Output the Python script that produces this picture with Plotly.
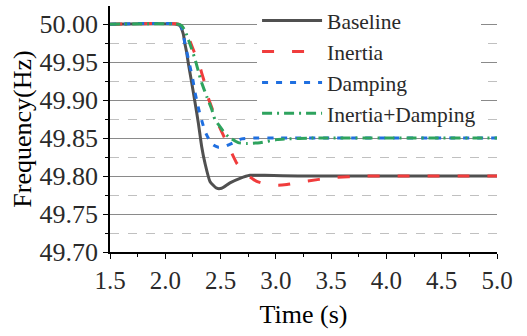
import plotly.graph_objects as go

# Time (s) and frequency (Hz)
t_base = [1.5, 2.10, 2.133, 2.163, 2.178, 2.193, 2.208, 2.239, 2.269, 2.299, 2.329, 2.359, 2.404, 2.465, 2.510, 2.585, 2.676, 2.766, 2.90, 3.2, 5.0]
f_base = [50.0, 50.0, 49.998, 49.987, 49.974, 49.963, 49.949, 49.923, 49.897, 49.870, 49.839, 49.817, 49.793, 49.784, 49.784, 49.791, 49.797, 49.801, 49.801, 49.800, 49.800]

t_inertia = [1.5, 2.12, 2.16, 2.208, 2.223, 2.26, 2.308, 2.329, 2.374, 2.389, 2.434, 2.465, 2.480, 2.55, 2.615, 2.646, 2.736, 2.827, 2.92, 3.022, 3.1, 3.26, 3.52, 3.79, 4.1, 5.0]
f_inertia = [50.0, 50.0, 49.996, 49.985, 49.978, 49.964, 49.947, 49.936, 49.914, 49.903, 49.885, 49.874, 49.868, 49.846, 49.826, 49.817, 49.802, 49.793, 49.789, 49.788, 49.789, 49.793, 49.798, 49.800, 49.800, 49.800]

t_damping = [1.5, 2.12, 2.148, 2.163, 2.178, 2.208, 2.233, 2.253, 2.269, 2.290, 2.314, 2.344, 2.359, 2.389, 2.434, 2.48, 2.540, 2.615, 2.691, 2.796, 3.0, 5.0]
f_damping = [50.0, 50.0, 49.996, 49.987, 49.974, 49.955, 49.938, 49.924, 49.910, 49.896, 49.881, 49.866, 49.859, 49.850, 49.841, 49.838, 49.839, 49.844, 49.849, 49.850, 49.850, 49.850]

t_both = [1.5, 2.12, 2.148, 2.18, 2.208, 2.223, 2.269, 2.314, 2.329, 2.374, 2.420, 2.450, 2.480, 2.525, 2.570, 2.660, 2.736, 2.857, 3.008, 3.098, 3.3, 5.0]
f_both = [50.0, 50.0, 49.998, 49.991, 49.980, 49.974, 49.954, 49.930, 49.923, 49.905, 49.888, 49.874, 49.868, 49.859, 49.852, 49.844, 49.843, 49.844, 49.848, 49.849, 49.850, 49.850]

names = ["Baseline", "Inertia", "Damping", "Inertia+Damping"]
colors = ["#505050", "#f03c3c", "#1f6fe0", "#2ea35e"]
dashes = ["solid", "12px,18px", "6px,8px", "10px,5px,2px,5px"]
series = [(t_base, f_base), (t_inertia, f_inertia), (t_damping, f_damping), (t_both, f_both)]

FONT = "Times New Roman"
TXT = "#2a2a2a"

fig = go.Figure()
for (t, f), n, c, d in zip(series, names, colors, dashes):
    fig.add_trace(go.Scatter(x=t, y=f, name=n, mode="lines",
                             line=dict(color=c, width=3, dash=d, shape="spline", smoothing=0.5)))

fig.update_layout(
    width=527, height=336,
    margin=dict(l=110, r=30, t=0, b=84),
    paper_bgcolor="white", plot_bgcolor="white",
    font=dict(family=FONT),
    legend=dict(x=0.38, y=1.0, xanchor="left", yanchor="top",
                bgcolor="white", font=dict(family=FONT, size=21.5, color=TXT),
                itemwidth=60),
    xaxis=dict(range=[1.5, 5.0], dtick=0.5, tick0=1.5, tickformat=".1f",
               showline=True, linecolor="black", linewidth=1.5,
               ticks="outside", ticklen=5, tickwidth=1.2, tickcolor="black",
               showgrid=False, zeroline=False,
               tickfont=dict(family=FONT, size=25, color=TXT),
               minor=dict(dtick=0.25, ticks="outside", ticklen=3, tickcolor="black", showgrid=False),
               title=dict(text="Time (s)", font=dict(family=FONT, size=26, color="black"), standoff=12)),
    yaxis=dict(domain=[0, 246 / 252], range=[49.70, 50.024], dtick=0.05, tick0=49.7, tickformat=".2f",
               showline=True, linecolor="black", linewidth=1.5,
               ticks="outside", ticklen=5, tickwidth=1.2, tickcolor="black",
               showgrid=True, gridcolor="#8a8a8a", gridwidth=1, zeroline=False,
               tickfont=dict(family=FONT, size=26, color=TXT),
               minor=dict(dtick=0.025, tick0=49.7, ticks="outside", ticklen=3, tickcolor="black",
                          showgrid=True, gridcolor="#c0c0c0", griddash="dash", gridwidth=1),
               title=dict(text="Frequency(Hz)", font=dict(family=FONT, size=26, color="black"), standoff=0)),
)

fig.write_html("out.html")
